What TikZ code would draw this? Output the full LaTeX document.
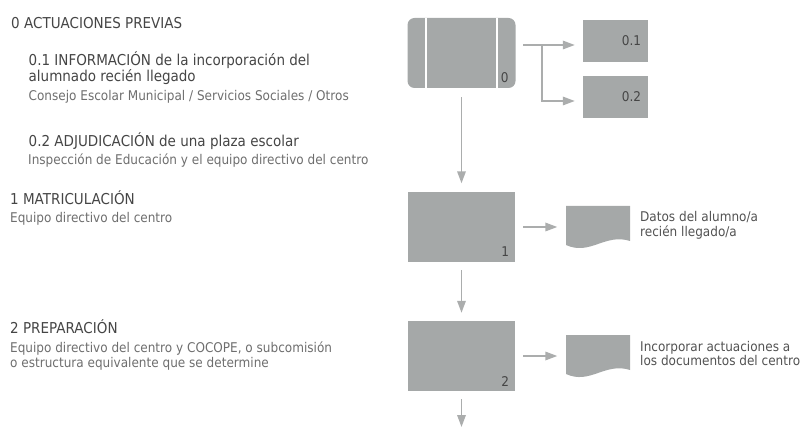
\documentclass[tikz,border=0pt]{standalone}
\usepackage{fontspec}
\setmainfont{DejaVu Sans}[FakeStretch=0.9]
\usetikzlibrary{arrows.meta,calc}

\definecolor{boxgray}{HTML}{A5A8A8}
\definecolor{linegray}{HTML}{ABADAD}
\definecolor{headgray}{HTML}{454545}
\definecolor{notegray}{HTML}{525252}
\definecolor{subgray}{HTML}{6E6E6E}

\newcommand{\headfont}{\fontsize{15}{15}\selectfont}
\newcommand{\subfont}{\fontsize{13.4}{14.5}\selectfont}

\begin{document}
\begin{tikzpicture}[x=1pt, y=-1pt,
    stepbox/.style={fill=boxgray, inner sep=0pt, minimum width=107pt, minimum height=70pt},
    subbox/.style={fill=boxgray, inner sep=0pt, minimum width=65pt, minimum height=42pt},
    docbox/.style={inner sep=0pt, minimum width=64pt, minimum height=42pt,
      path picture={\fill[boxgray] (path picture bounding box.north west) -- (path picture bounding box.north east)
        -- ++(0,35) .. controls +(-25,-8) and +(24,11) .. ($(path picture bounding box.south west)+(0,-3)$) -- cycle;}},
    flow/.style={draw=linegray, line width=1.7pt, -{Triangle[length=12pt,width=8.5pt]}},
    numlbl/.style={inner sep=0pt, text=headgray, font=\subfont},
    head/.style={anchor=base west, inner sep=0pt, align=left, text=headgray, font=\headfont},
    who/.style={anchor=base west, inner sep=0pt, align=left, text=subgray, font=\subfont},
    note/.style={anchor=base west, inner sep=0pt, align=left, text=notegray, font=\subfont}]

    \useasboundingbox (0,0) rectangle (805,427);

    \node (h0) at (11,29) [head] {0 ACTUACIONES PREVIAS};
    \node (h01) at (28.5,82) [head] {0.1 INFORMACIÓN de la incorporación del\\alumnado recién llegado};
    \node (w01) at (28.5,101) [who] {Consejo Escolar Municipal / Servicios Sociales / Otros};
    \node (h02) at (28.5,147) [head] {0.2 ADJUDICACIÓN de una plaza escolar};
    \node (w02) at (28,165) [who] {Inspección de Educación y el equipo directivo del centro};
    \node (h1) at (10,205) [head] {1 MATRICULACIÓN};
    \node (w1) at (10,223) [who] {Equipo directivo del centro};
    \node (h2) at (10,334) [head] {2 PREPARACIÓN};
    \node (w2) at (10,367) [who] {Equipo directivo del centro y COCOPE, o subcomisión\\o estructura equivalente que se determine};

    \node (p0) at (461.5,53) [stepbox, minimum width=108pt, rounded corners=7pt] {};
    \draw[white, line width=1.8pt] ($(p0.north west)+(19,0)$) -- ($(p0.south west)+(19,0)$);
    \draw[white, line width=1.8pt] ($(p0.north west)+(90,0)$) -- ($(p0.south west)+(90,0)$);
    \node (n0) at ($(p0.south east)+(-7,-6)$) [numlbl, anchor=base east] {0};

    \node (p01) at (615.5,41) [subbox] {};
    \node (n01) at ($(p01.east)+(-7,5)$) [numlbl, anchor=base east] {0.1};
    \node (p02) at (615.5,97) [subbox] {};
    \node (n02) at ($(p02.east)+(-7,5)$) [numlbl, anchor=base east] {0.2};

    \coordinate (out0) at (523,45);
    \coordinate (fork) at (542,45);
    \draw[flow, shorten >=8pt] (out0) -- ([yshift=-4pt]p01.west);
    \draw[flow, shorten >=8pt] (fork) |- ([yshift=-4pt]p02.west);

    \node (p1) at (461.5,227) [stepbox] {};
    \node (n1) at ($(p1.south east)+(-6,-5.5)$) [numlbl, anchor=base east] {1};
    \node (d1) at (598,227) [docbox] {};
    \node (t1) at (640,236.5) [note] {Datos del alumno/a\\recién llegado/a};

    \node (p2) at (461.5,356) [stepbox] {};
    \node (n2) at ($(p2.south east)+(-6,-5)$) [numlbl, anchor=base east] {2};
    \node (d2) at (598,356) [docbox] {};
    \node (t2) at (640,365.5) [note] {Incorporar actuaciones a\\los documentos del centro};

    \coordinate (next) at (461.5,427);
    \draw[flow, shorten <=9pt, shorten >=8.5pt] (p0.south) -- (p1.north);
    \draw[flow, shorten <=8pt, shorten >=8pt] (p1.south) -- (p2.north);
    \draw[flow, shorten <=8pt] (p2.south) -- (next);
    \draw[flow, shorten <=8pt, shorten >=8.5pt] (p1.east) -- (d1.west);
    \draw[flow, shorten <=8pt, shorten >=8.5pt] (p2.east) -- (d2.west);

\end{tikzpicture}
\end{document}
